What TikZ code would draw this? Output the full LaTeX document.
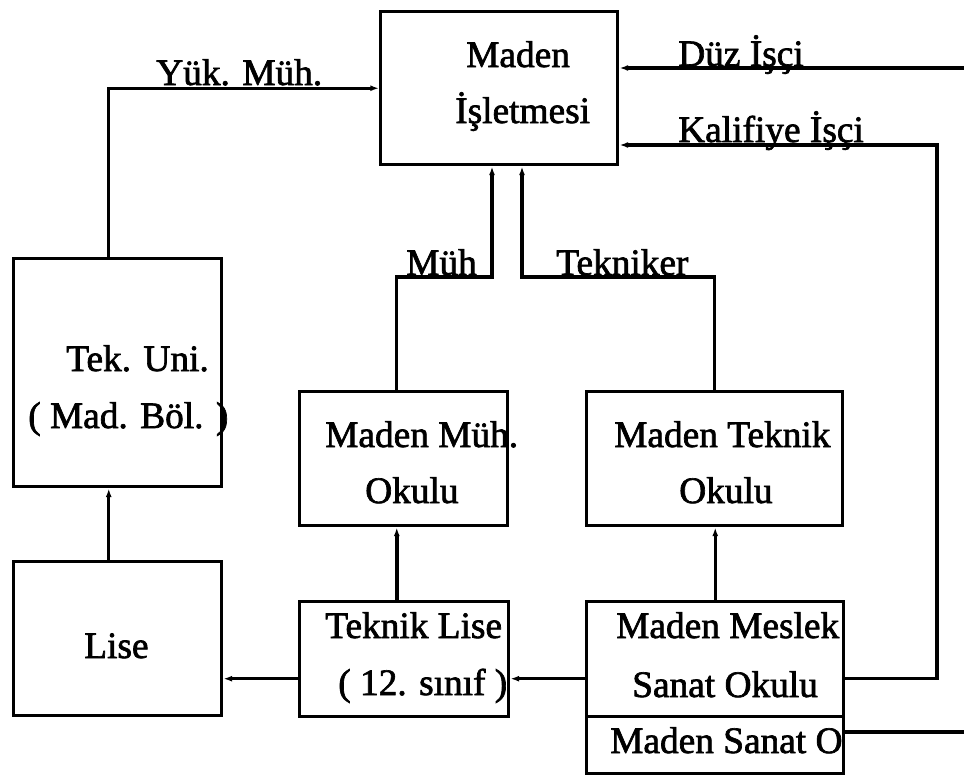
\documentclass[tikz,border=0pt]{standalone}
\usepackage{fontspec}
\setmainfont{Liberation Serif}
\newfontfamily\lblfont[FakeBold=1.8]{Liberation Serif}
\usetikzlibrary{arrows.meta}
\newcommand\mkbox[5]{\node[box, anchor=north west, minimum width={(#4-#2)*0.75pt}, minimum height={(#5-#3)*0.75pt}] (#1) at (#2,#3) {};}
\begin{document}
\begin{tikzpicture}[x=0.75pt,y=-0.75pt,
  box/.style={draw, line width=2.6pt, inner sep=0pt},
  lbl/.style={anchor=base west, inner sep=0pt, font=\lblfont\fontsize{28}{30}\selectfont},
  conn/.style={line width=2.6pt},
  arr/.style={conn, -{Latex[length=6.5pt,width=4.5pt]}}]
\useasboundingbox (0,0) rectangle (964,775);
% texts
\node[lbl] (t1) at (466,67) {Maden};
\node[lbl] (t2) at (455,123) {İşletmesi};
\node[lbl] (t3) at (156,85) {Yük. Müh.};
\node[lbl] (t4) at (678,66) {Düz İşçi};
\node[lbl] (t5) at (678,142) {Kalifiye İşçi};
\node[lbl] (t6) at (406,275) {Müh};
\node[lbl] (t7) at (556,275) {Tekniker};
\node[lbl] (t8) at (66,371) {Tek. Uni.};
\node[lbl] (t9) at (28,428) {( Mad. Böl. )};
\node[lbl] (t10) at (84,658) {Lise};
\node[lbl] (t11) at (325,447) {Maden Müh.};
\node[lbl] (t12) at (365,503) {Okulu};
\node[lbl] (t13) at (614,447) {Maden Teknik};
\node[lbl] (t14) at (679,503) {Okulu};
\node[lbl] (t15) at (325,638) {Teknik Lise};
\node[lbl] (t16) at (338,695) {( 12. sınıf )};
\node[lbl] (t17) at (616,638) {Maden Meslek};
\node[lbl] (t18) at (632,697) {Sanat Okulu};
\begin{scope}
\clip (585,715) rectangle (842,775);
\node[lbl] (t19) at (610,753) {Maden Sanat O};
\end{scope}
% boxes
\mkbox{mi}{379}{10}{616}{163}
\mkbox{tu}{12}{257}{220}{485}
\mkbox{lise}{12}{560}{220}{714}
\mkbox{mmo}{298}{390}{506}{524}
\mkbox{mto}{585}{390}{841}{524}
\mkbox{tl}{298}{600}{507}{715}
\mkbox{mms}{585}{600}{842}{715}
\mkbox{mso}{585}{715}{842}{772}
% connectors
\draw[arr] ([xshift=-6.75pt]tu.north) |- (mi.west);
\coordinate (dz) at (964,68);
\draw[arr] (dz) -- (dz -| mi.east);
\coordinate (kr) at (937,145);
\draw[arr] ([yshift=-14.6pt]mms.east) -| (kr) -- (kr -| mi.east);
\coordinate (mh) at (492,277);
\draw[arr] ([xshift=-5.25pt]mmo.north) |- (mh) -- (mh |- mi.south);
\coordinate (tk) at (522,277);
\draw[arr] (mto.north) |- (tk) -- (tk |- mi.south);
\draw[arr] ([xshift=-6.75pt]lise.north) -- ([xshift=-6.75pt]tu.south);
\draw[arr] ([xshift=-5.6pt]tl.north) -- ([xshift=-5.6pt]tl.north |- mmo.south);
\draw[arr] (mms.north) -- (mms.north |- mto.south);
\draw[arr] ([yshift=-14.6pt]tl.west) -- ([yshift=-14.6pt]tl.west -| lise.east);
\draw[arr] ([yshift=-14.6pt]mms.west) -- ([yshift=-14.6pt]mms.west -| tl.east);
\coordinate (se) at (964,732);
\draw[conn] (se -| mso.east) -- (se);
\end{tikzpicture}
\end{document}
